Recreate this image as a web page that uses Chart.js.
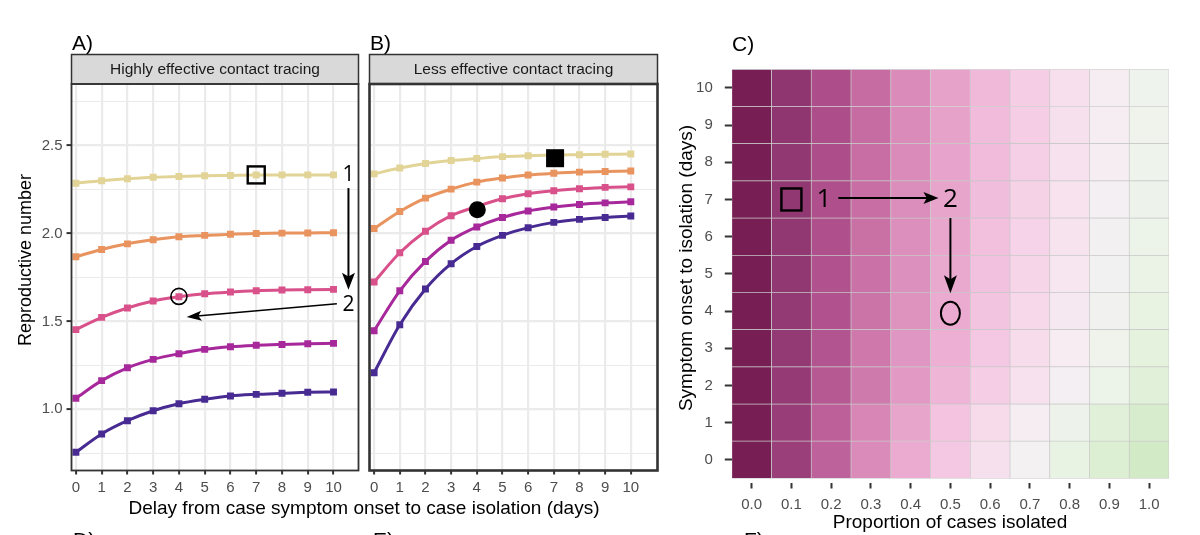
<!DOCTYPE html>
<html>
<head>
<meta charset="utf-8">
<script src="https://cdn.jsdelivr.net/npm/chart.js@4.4.1/dist/chart.umd.min.js"></script>
<style>
  html, body { margin:0; padding:0; background:#ffffff; }
  #wrap { position:relative; width:1200px; height:535px; overflow:hidden; background:#fff; }
  canvas { position:absolute; left:0; top:0; }
</style>
</head>
<body>
<div id="wrap">
  <canvas id="chartA" width="1200" height="535"></canvas>
  <canvas id="chartB" width="1200" height="535"></canvas>
  <canvas id="chartC" width="1200" height="535"></canvas>
</div>
<script>
// ---------------- data ----------------
const delays = [0, 1, 2, 3, 4, 5, 6, 7, 8, 9, 10];
const reproTicks = [0.75, 1.0, 1.25, 1.5, 1.75, 2.0, 2.25, 2.5, 2.75];
const reproMajor = [1.0, 1.5, 2.0, 2.5];

// Panel A: highly effective contact tracing (top curve to bottom curve)
const A1 = [2.286, 2.300, 2.311, 2.320, 2.324, 2.328, 2.330, 2.332, 2.333, 2.333, 2.333];
const A2 = [1.868, 1.909, 1.941, 1.964, 1.981, 1.989, 1.996, 2.000, 2.002, 2.003, 2.004];
const A3 = [1.453, 1.523, 1.576, 1.616, 1.640, 1.657, 1.667, 1.674, 1.678, 1.680, 1.682];
const A4 = [1.063, 1.163, 1.236, 1.284, 1.316, 1.341, 1.356, 1.364, 1.369, 1.373, 1.375];
const A5 = [0.756, 0.860, 0.935, 0.992, 1.032, 1.057, 1.076, 1.085, 1.091, 1.097, 1.098];

// Panel B: less effective contact tracing
const B1 = [2.339, 2.372, 2.398, 2.415, 2.426, 2.437, 2.442, 2.446, 2.448, 2.450, 2.452];
const B2 = [2.028, 2.125, 2.201, 2.252, 2.292, 2.315, 2.332, 2.342, 2.349, 2.352, 2.355];
const B3 = [1.724, 1.890, 2.013, 2.101, 2.153, 2.197, 2.226, 2.243, 2.254, 2.262, 2.265];
const B4 = [1.447, 1.674, 1.841, 1.961, 2.037, 2.091, 2.128, 2.150, 2.165, 2.174, 2.180];
const B5 = [1.208, 1.481, 1.684, 1.828, 1.926, 1.989, 2.033, 2.063, 2.080, 2.091, 2.099];

const panelTitles = ['Highly effective contact tracing', 'Less effective contact tracing'];
const panelLetters = ['A)', 'B)', 'C)', 'D)', 'E)', 'F)'];
const xTitleAB = 'Delay from case symptom onset to case isolation (days)';
const yTitleAB = 'Reproductive number';
const xTitleC = 'Proportion of cases isolated';
const yTitleC = 'Symptom onset to isolation (days)';

// Panel C: heatmap of reproductive number
const propIsolated = [0.0, 0.1, 0.2, 0.3, 0.4, 0.5, 0.6, 0.7, 0.8, 0.9, 1.0];
const onsetDays = [0, 1, 2, 3, 4, 5, 6, 7, 8, 9, 10];
const heatR = [
  [2.50, 2.29, 2.09, 1.88, 1.67, 1.47, 1.26, 1.05, 0.84, 0.64, 0.43], // 0 days
  [2.50, 2.30, 2.10, 1.91, 1.71, 1.51, 1.31, 1.11, 0.92, 0.72, 0.52], // 1
  [2.50, 2.32, 2.14, 1.97, 1.79, 1.61, 1.43, 1.25, 1.08, 0.90, 0.72], // 2
  [2.50, 2.33, 2.16, 1.98, 1.81, 1.64, 1.47, 1.30, 1.12, 0.95, 0.78], // 3
  [2.50, 2.33, 2.17, 2.00, 1.83, 1.67, 1.50, 1.33, 1.16, 1.00, 0.83], // 4
  [2.50, 2.34, 2.17, 2.01, 1.85, 1.69, 1.52, 1.36, 1.20, 1.03, 0.87], // 5
  [2.50, 2.34, 2.18, 2.02, 1.86, 1.70, 1.54, 1.38, 1.22, 1.06, 0.90], // 6
  [2.50, 2.34, 2.18, 2.03, 1.87, 1.71, 1.55, 1.39, 1.24, 1.08, 0.92], // 7
  [2.50, 2.34, 2.19, 2.03, 1.88, 1.72, 1.56, 1.41, 1.25, 1.10, 0.94], // 8
  [2.50, 2.35, 2.19, 2.04, 1.88, 1.73, 1.57, 1.42, 1.26, 1.11, 0.95], // 9
  [2.50, 2.35, 2.19, 2.04, 1.88, 1.73, 1.58, 1.42, 1.27, 1.11, 0.96]  // 10
];

// annotations (data units)
const annA = { square: [7, 2.333], circle: [4, 1.642], one: [10.58, 2.333], two: [10.58, 1.595],
               down: [[10.58, 2.258], [10.58, 1.68]], left: [[10.13, 1.60], [4.30, 1.525]] };
const annB = { square: [7.05, 2.428], circle: [4.02, 2.135] };
const annC = { square: [0.1, 7], one: [0.182, 7], right: [[0.218, 7.04], [0.47, 7.04]], two: [0.5, 7],
               down: [[0.5, 6.5], [0.5, 4.48]], ring: [0.5, 3.94] };

// ---------------- styles ----------------
const seriesColors = ['#e2d496', '#e9935f', '#d8518a', '#a6289b', '#482b92'];
const heatStopVals = [0.43, 0.64, 0.84, 0.96, 1.05, 1.13, 1.27, 1.44, 1.59, 1.74, 1.89, 2.05, 2.21, 2.35, 2.50];
const heatStopCols = ['#d3eac6', '#dcefd3', '#e9f3e3', '#eff3ed', '#f3f1f2', '#f6ebf1', '#f7dfed', '#f5cce5',
                      '#f0b8d9', '#e6a0c9', '#d98ab9', '#c56aa1', '#aa4a87', '#8f3670', '#771e54'];
const FONT = '"Liberation Sans", Arial, sans-serif';
const NUMFONT = '"Open Sans", "Noto Sans", sans-serif';

function hex2rgb(h) { return [parseInt(h.slice(1,3),16), parseInt(h.slice(3,5),16), parseInt(h.slice(5,7),16)]; }
function heatColor(v) {
  if (v <= heatStopVals[0]) return heatStopCols[0];
  for (let i = 1; i < heatStopVals.length; i++) {
    if (v <= heatStopVals[i]) {
      const t = (v - heatStopVals[i-1]) / (heatStopVals[i] - heatStopVals[i-1]);
      const a = hex2rgb(heatStopCols[i-1]), b = hex2rgb(heatStopCols[i]);
      return 'rgb(' + a.map((c, k) => Math.round(c + (b[k] - c) * t)).join(',') + ')';
    }
  }
  return heatStopCols[heatStopCols.length - 1];
}
const isMajor = v => reproMajor.some(m => Math.abs(m - v) < 1e-6);

function txt(ctx, str, x, y, size, o) {
  o = o || {};
  ctx.save();
  ctx.font = (o.weight || 'normal') + ' ' + size + 'px ' + (o.family || FONT);
  ctx.fillStyle = o.color || '#000';
  ctx.textAlign = o.align || 'center';
  ctx.textBaseline = o.baseline || 'middle';
  if (o.rotate) { ctx.translate(x, y); ctx.rotate(o.rotate); ctx.fillText(str, 0, 0); }
  else ctx.fillText(str, x, y);
  ctx.restore();
}
function drawArrow(ctx, x1, y1, x2, y2, lw, hl, hw) {
  const a = Math.atan2(y2 - y1, x2 - x1), c = Math.cos(a), s = Math.sin(a);
  const bx = x2 - hl * c, by = y2 - hl * s;
  ctx.save();
  ctx.strokeStyle = '#000'; ctx.fillStyle = '#000'; ctx.lineWidth = lw;
  ctx.beginPath(); ctx.moveTo(x1, y1); ctx.lineTo(bx + 0.3 * hl * c, by + 0.3 * hl * s); ctx.stroke();
  ctx.beginPath(); ctx.moveTo(x2, y2);
  ctx.lineTo(bx - hw / 2 * s, by + hw / 2 * c);
  ctx.lineTo(bx + 0.22 * hl * c, by + 0.22 * hl * s);
  ctx.lineTo(bx + hw / 2 * s, by - hw / 2 * c);
  ctx.closePath(); ctx.fill();
  ctx.restore();
}

function framePlugin(title, fw) {
  return { id: 'frame', afterDraw(chart) {
    const ctx = chart.ctx, ca = chart.chartArea, st = 54.5;
    ctx.save();
    ctx.fillStyle = '#d9d9d9';
    ctx.fillRect(ca.left, st, ca.right - ca.left, ca.top - st);
    ctx.strokeStyle = '#333333'; ctx.lineWidth = 1.5;
    ctx.strokeRect(ca.left, st, ca.right - ca.left, ca.top - st);
    ctx.lineWidth = fw;
    ctx.strokeRect(ca.left, ca.top, ca.right - ca.left, ca.bottom - ca.top);
    ctx.restore();
    txt(ctx, title, (ca.left + ca.right) / 2, (st + ca.top) / 2 + 0.5, 15.5, { color: '#1a1a1a' });
  }};
}

function lineChart(id, series, o) {
  return new Chart(document.getElementById(id), {
    type: 'line',
    data: { datasets: series.map((s, k) => ({
      data: s.map((v, i) => ({ x: delays[i], y: v })),
      borderColor: seriesColors[k], backgroundColor: seriesColors[k],
      borderWidth: 3, pointStyle: 'rect', pointRadius: 4.9, pointHoverRadius: 4.9, pointBorderWidth: 0,
      cubicInterpolationMode: 'monotone', fill: false
    })) },
    options: {
      responsive: false, animation: false, devicePixelRatio: 1,
      layout: { padding: { left: o.padL, right: o.padR, top: 84, bottom: 34.5 } },
      plugins: { legend: { display: false }, tooltip: { enabled: false } },
      scales: {
        x: {
          type: 'linear', min: o.xmin, max: o.xmax,
          afterBuildTicks: s => { s.ticks = delays.map(v => ({ value: v })); },
          afterFit: s => { s.height = 30; },
          ticks: { font: { family: FONT, size: 15 }, color: '#4d4d4d', padding: 4, maxRotation: 0, autoSkip: false,
                   callback: v => String(v) },
          grid: { color: '#ebebeb', lineWidth: 2.2, drawTicks: true, tickLength: 4, tickWidth: 2, tickColor: '#333333' },
          border: { display: false }
        },
        y: {
          type: 'linear', min: 0.652, max: 2.85,
          afterBuildTicks: s => { s.ticks = reproTicks.map(v => ({ value: v })); },
          afterFit: s => { s.width = o.yW; },
          ticks: { display: o.yLabels, font: { family: FONT, size: 15 }, color: '#4d4d4d', padding: 4,
                   callback: v => isMajor(v) ? v.toFixed(1) : '' },
          grid: { color: '#ebebeb', lineWidth: c => (c.tick && isMajor(c.tick.value)) ? 2.2 : 1.1,
                  drawTicks: o.yLabels, tickLength: 5, tickWidth: 2,
                  tickColor: c => (c.tick && isMajor(c.tick.value)) ? '#333333' : 'rgba(0,0,0,0)' },
          border: { display: false }
        }
      }
    },
    plugins: [framePlugin(o.title, o.fw), o.annot]
  });
}

// ---------- Panel A ----------
lineChart('chartA', [A1, A2, A3, A4, A5], {
  padL: 0, padR: 1200 - 358.5, yW: 71.5, yLabels: true, xmin: -0.17, xmax: 10.97, title: panelTitles[0], fw: 1.8,
  annot: { id: 'annA', afterDraw(chart) {
    const ctx = chart.ctx, X = v => chart.scales.x.getPixelForValue(v), Y = v => chart.scales.y.getPixelForValue(v);
    ctx.save();
    ctx.strokeStyle = '#000'; ctx.lineWidth = 2.4;
    ctx.strokeRect(X(annA.square[0]) - 8.5, Y(annA.square[1]) - 8.5, 17, 17);
    ctx.lineWidth = 1.6;
    ctx.beginPath(); ctx.arc(X(annA.circle[0]), Y(annA.circle[1]), 8, 0, Math.PI * 2); ctx.stroke();
    ctx.restore();
    txt(ctx, '1', X(annA.one[0]), Y(annA.one[1]), 21, { family: NUMFONT });
    txt(ctx, '2', X(annA.two[0]), Y(annA.two[1]), 21, { family: NUMFONT });
    drawArrow(ctx, X(annA.down[0][0]), Y(annA.down[0][1]), X(annA.down[1][0]), Y(annA.down[1][1]), 2, 17, 13);
    drawArrow(ctx, X(annA.left[0][0]), Y(annA.left[0][1]), X(annA.left[1][0]), Y(annA.left[1][1]), 1.5, 15, 10);
    // page labels belonging to the left column
    txt(ctx, panelLetters[0], 72, 50, 21, { align: 'left', baseline: 'alphabetic' });
    txt(ctx, panelLetters[3], 73, 547, 21, { align: 'left', baseline: 'alphabetic' });
    txt(ctx, xTitleAB, 364, 509, 19);
    txt(ctx, yTitleAB, 26, 260, 18, { rotate: -Math.PI / 2 });
  }}
});

// ---------- Panel B ----------
lineChart('chartB', [B1, B2, B3, B4, B5], {
  padL: 369.5, padR: 1200 - 657.5, yW: 0, yLabels: false, xmin: -0.18, xmax: 11.04, title: panelTitles[1], fw: 2.6,
  annot: { id: 'annB', afterDraw(chart) {
    const ctx = chart.ctx, X = v => chart.scales.x.getPixelForValue(v), Y = v => chart.scales.y.getPixelForValue(v);
    ctx.save();
    ctx.fillStyle = '#000';
    ctx.fillRect(X(annB.square[0]) - 9, Y(annB.square[1]) - 9, 18, 18);
    ctx.beginPath(); ctx.arc(X(annB.circle[0]), Y(annB.circle[1]), 8.5, 0, Math.PI * 2); ctx.fill();
    ctx.restore();
    txt(ctx, panelLetters[1], 370, 50, 21, { align: 'left', baseline: 'alphabetic' });
    txt(ctx, panelLetters[4], 373, 547, 21, { align: 'left', baseline: 'alphabetic' });
  }}
});

// ---------- Panel C (heatmap) ----------
new Chart(document.getElementById('chartC'), {
  type: 'bar',
  data: { datasets: onsetDays.map((d, r) => ({
    data: propIsolated.map(p => ({ x: p, y: [d - 0.5, d + 0.5] })),
    backgroundColor: propIsolated.map((p, j) => heatColor(heatR[r][j])),
    borderColor: 'rgba(198,198,198,0.95)', borderWidth: 0.7, borderSkipped: false,
    grouped: false, barPercentage: 1, categoryPercentage: 1
  })) },
  options: {
    responsive: false, animation: false, devicePixelRatio: 1,
    layout: { padding: { left: 670, right: 31, top: 69.3, bottom: 0.5 } },
    plugins: { legend: { display: false }, tooltip: { enabled: false } },
    scales: {
      x: {
        type: 'linear', min: -0.05, max: 1.05, offset: false,
        afterBuildTicks: s => { s.ticks = propIsolated.map(v => ({ value: v })); },
        afterFit: s => { s.height = 52; },
        ticks: { font: { family: FONT, size: 15 }, color: '#4d4d4d', padding: 7, maxRotation: 0, autoSkip: false,
                 callback: v => v.toFixed(1) },
        grid: { display: true, offset: false, drawOnChartArea: false, drawTicks: true, tickLength: 6, tickWidth: 2, tickColor: '#333333' },
        border: { display: false }
      },
      y: {
        type: 'linear', min: -0.61, max: 10.5, beginAtZero: false,
        afterBuildTicks: s => { s.ticks = onsetDays.map(v => ({ value: v })); },
        afterFit: s => { s.width = 61.8; },
        ticks: { font: { family: FONT, size: 15 }, color: '#4d4d4d', padding: 12, callback: v => String(v) },
        grid: { display: true, drawOnChartArea: false, drawTicks: true, tickLength: 7, tickWidth: 2, tickColor: '#333333' },
        border: { display: false }
      }
    }
  },
  plugins: [{ id: 'annC', afterDraw(chart) {
    const ctx = chart.ctx, X = v => chart.scales.x.getPixelForValue(v), Y = v => chart.scales.y.getPixelForValue(v);
    ctx.save();
    ctx.strokeStyle = '#000'; ctx.lineWidth = 2.4;
    ctx.strokeRect(X(annC.square[0]) - 10, Y(annC.square[1]) - 11, 20, 22);
    ctx.lineWidth = 2;
    ctx.beginPath(); ctx.ellipse(X(annC.ring[0]), Y(annC.ring[1]), 9.5, 11.5, 0, 0, Math.PI * 2); ctx.stroke();
    ctx.restore();
    txt(ctx, '1', X(annC.one[0]), Y(annC.one[1]), 26, { family: NUMFONT });
    txt(ctx, '2', X(annC.two[0]), Y(annC.two[1]), 26, { family: NUMFONT });
    drawArrow(ctx, X(annC.right[0][0]), Y(annC.right[0][1]), X(annC.right[1][0]), Y(annC.right[1][1]), 2, 15, 12);
    drawArrow(ctx, X(annC.down[0][0]), Y(annC.down[0][1]), X(annC.down[1][0]), Y(annC.down[1][1]), 2, 18, 13);
    txt(ctx, panelLetters[2], 732, 51, 21, { align: 'left', baseline: 'alphabetic' });
    txt(ctx, panelLetters[5], 744, 547, 21, { align: 'left', baseline: 'alphabetic' });
    txt(ctx, xTitleC, 950, 523, 19);
    txt(ctx, yTitleC, 687, 268, 19, { rotate: -Math.PI / 2 });
  }}]
});
</script>
</body>
</html>
